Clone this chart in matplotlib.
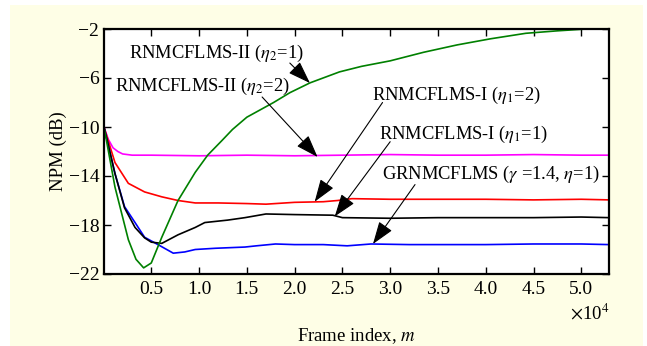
import matplotlib
matplotlib.use('Agg')
import matplotlib.pyplot as plt
from matplotlib.patches import Rectangle

plt.rcParams['font.family'] = 'Liberation Serif'
plt.rcParams['mathtext.fontset'] = 'stix'

# x in units of 10^4 frames, NPM in dB
x_green = [0, 0.005, 0.12, 0.26, 0.34, 0.42, 0.5, 0.61, 0.78, 0.96, 1.09, 1.24, 1.35, 1.5,
           1.78, 1.95, 2.16, 2.47, 2.7, 3.0, 3.35, 3.7, 4.05, 4.42, 4.75, 5.05, 5.29]
y_green = [-3.6, -10.0, -14.9, -19.2, -20.8, -21.5, -21.1, -19.0, -16.0, -13.7, -12.3, -11.1, -10.2, -9.2,
           -8.0, -7.2, -6.4, -5.5, -5.05, -4.6, -3.9, -3.3, -2.8, -2.35, -2.15, -2.0, -1.85]

x_magenta = [0, 0.005, 0.05, 0.1, 0.15, 0.2, 0.3, 0.5, 1.0, 1.5, 2.0, 2.5, 3.0, 3.5, 4.0, 4.5, 5.0, 5.29]
y_magenta = [-3.6, -10.0, -11.0, -11.7, -12.0, -12.2, -12.3, -12.3, -12.35, -12.3, -12.35, -12.3,
             -12.25, -12.3, -12.3, -12.25, -12.3, -12.3]

x_red = [0, 0.005, 0.12, 0.26, 0.43, 0.61, 0.78, 0.96, 1.2, 1.5, 1.7, 2.0, 2.3, 2.45, 2.6, 3.0,
         3.5, 4.0, 4.5, 5.0, 5.29]
y_red = [-3.6, -10.0, -12.9, -14.6, -15.3, -15.7, -16.0, -16.2, -16.2, -16.25, -16.3, -16.15, -16.1,
         -16.0, -15.85, -15.9, -15.9, -15.9, -15.95, -15.9, -15.95]

x_black = [0, 0.005, 0.12, 0.22, 0.33, 0.43, 0.5, 0.61, 0.78, 0.96, 1.06, 1.3, 1.48, 1.7, 2.0,
           2.4, 2.5, 3.0, 3.5, 4.0, 4.5, 5.0, 5.29]
y_black = [-3.6, -10.0, -13.8, -16.6, -18.2, -19.05, -19.4, -19.5, -18.8, -18.2, -17.8, -17.6, -17.4,
           -17.1, -17.15, -17.2, -17.4, -17.45, -17.4, -17.4, -17.4, -17.35, -17.4]

x_blue = [0, 0.005, 0.12, 0.22, 0.33, 0.43, 0.57, 0.73, 0.85, 0.96, 1.17, 1.48, 1.6, 1.8, 2.0,
          2.3, 2.55, 2.8, 3.2, 3.6, 4.0, 4.5, 5.0, 5.29]
y_blue = [-3.6, -10.0, -13.8, -16.5, -17.8, -19.0, -19.6, -20.3, -20.2, -20.0, -19.9, -19.8, -19.7,
          -19.55, -19.6, -19.6, -19.7, -19.55, -19.6, -19.6, -19.6, -19.55, -19.55, -19.6]

x_ticks = [0.5, 1.0, 1.5, 2.0, 2.5, 3.0, 3.5, 4.0, 4.5, 5.0]
y_ticks = [-22, -18, -14, -10, -6, -2]

labels = [r'RNMCFLMS-II ($\eta_2$=1)', r'RNMCFLMS-II ($\eta_2$=2)', r'RNMCFLMS-I ($\eta_1$=2)',
          r'RNMCFLMS-I ($\eta_1$=1)', r'GRNMCFLMS ($\gamma$ =1.4, $\eta$=1)']
label_pos = [(0.27, -3.96), (0.12, -6.65), (2.81, -7.4), (2.88, -10.6), (2.91, -13.9)]
arrow_start = [(1.95, -4.78), (1.66, -7.55), (2.92, -8.0), (3.0, -11.2), (3.26, -14.7)]
arrow_tip = [(2.16, -6.41), (2.24, -12.45), (2.21, -16.1), (2.42, -17.3), (2.82, -19.55)]

fig = plt.figure(figsize=(6.47, 3.46), dpi=100)
fig.patch.set_facecolor('white')
fig.patches.append(Rectangle((10 / 647, 0), 633 / 647, 341 / 346, transform=fig.transFigure,
                             facecolor='#fefee6', edgecolor='none', zorder=-10))
ax = fig.add_axes([103.5 / 647, 72 / 346, 505.5 / 647, 245 / 346])

ax.plot(x_magenta, y_magenta, color='#ff00ff', lw=1.2)
ax.plot(x_red, y_red, color='#ff0000', lw=1.2)
ax.plot(x_blue, y_blue, color='#0000ff', lw=1.2)
ax.plot(x_black, y_black, color='black', lw=1.2)
ax.plot(x_green, y_green, color='#008000', lw=1.2)

for lab, pos, s, t in zip(labels, label_pos, arrow_start, arrow_tip):
    ax.text(pos[0], pos[1], lab, fontsize=13.3, ha='left', va='center')
    ax.annotate('', xy=t, xytext=s,
                arrowprops=dict(arrowstyle='-|>,head_length=1.0,head_width=0.35',
                                color='black', lw=0.8, mutation_scale=14, shrinkA=0, shrinkB=0))

ax.set_xlim(0, 5.29)
ax.set_ylim(-22, -2)
ax.set_xticks(x_ticks)
ax.set_xticklabels(['%.1f' % v for v in x_ticks])
ax.set_yticks(y_ticks)
ax.set_yticklabels(['\u2212%d' % abs(v) for v in y_ticks])
ax.tick_params(direction='in', top=True, right=True, length=5, width=1, labelsize=14)
ax.tick_params(axis='x', pad=5)
ax.tick_params(axis='y', pad=3)
for sp in ax.spines.values():
    sp.set_linewidth(1.6)

ax.set_xlabel(r'Frame index, $m$', fontsize=13.5, labelpad=20)
ax.set_ylabel('NPM (dB)', fontsize=13.5, labelpad=1)
ax.text(1.0, -0.16, r'$\times$10$^4$', transform=ax.transAxes, ha='right', va='center', fontsize=13.5)

fig.savefig('out.png', dpi=100, facecolor=fig.get_facecolor())
